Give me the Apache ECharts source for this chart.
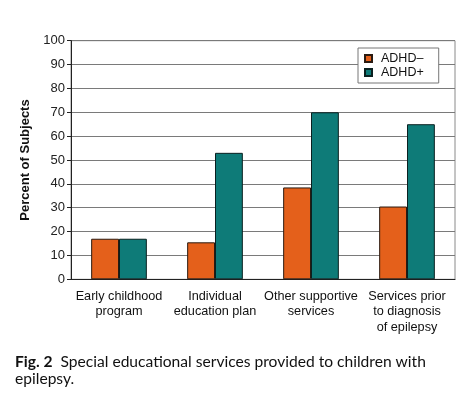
<!DOCTYPE html>
<html>
<head>
<meta charset="utf-8">
<script src="https://cdn.jsdelivr.net/npm/echarts@6/dist/echarts.min.js"></script>
<style>
html,body{margin:0;padding:0;background:#fff;}
#c{width:474px;height:403px;}
</style>
</head>
<body>
<div id="c"></div>
<script>
var categories = ["Early childhood\nprogram", "Individual\neducation plan", "Other supportive\nservices", "Services prior\nto diagnosis\nof epilepsy"];
var adhdNeg = [17, 15.5, 38.5, 30.5];
var adhdPos = [17, 53, 70, 65];
var yTicks = [0, 10, 20, 30, 40, 50, 60, 70, 80, 90, 100];

var chart = echarts.init(document.getElementById('c'), null, {renderer: 'canvas'});
var font = 'Liberation Sans, Arial, sans-serif';
chart.setOption({
  backgroundColor: '#fff',
  animation: false,
  grid: {left: 71, right: 19, top: 40.7, bottom: 123.7, show: true, borderColor: '#8a8a8a', borderWidth: 1},
  legend: {
    left: 358, top: 48, orient: 'vertical',
    backgroundColor: '#fff', borderColor: '#777', borderWidth: 1,
    padding: [4, 15, 4, 6], itemGap: 1,
    itemWidth: 7, itemHeight: 7, icon: 'rect',
    textStyle: {fontFamily: font, fontSize: 12.5, color: '#111', padding: [0, 0, 0, 4]},
    data: ['ADHD\u2013', 'ADHD+']
  },
  xAxis: {
    type: 'category', data: categories,
    axisLine: {lineStyle: {color: '#222', width: 1}},
    axisTick: {length: 4, lineStyle: {color: '#222'}},
    axisLabel: {fontFamily: font, fontSize: 12.7, color: '#111', margin: 9, lineHeight: 15.5, interval: 0}
  },
  yAxis: {
    type: 'value', min: yTicks[0], max: yTicks[yTicks.length - 1], interval: 10,
    name: 'Percent of Subjects', nameLocation: 'middle', nameGap: 35,
    nameTextStyle: {fontFamily: font, fontSize: 13, fontWeight: 'bold', color: '#111'},
    axisLine: {show: true, lineStyle: {color: '#222', width: 1}},
    axisTick: {show: true, length: 4, lineStyle: {color: '#222'}},
    axisLabel: {fontFamily: font, fontSize: 13, color: '#222', margin: 6},
    splitLine: {lineStyle: {color: '#7a7a7a', width: 1}}
  },
  series: [
    {name: 'ADHD\u2013', type: 'bar', data: adhdNeg, barGap: '0%', barCategoryGap: '42%',
     itemStyle: {color: '#E4601B', borderColor: '#2a1a10', borderWidth: 1}},
    {name: 'ADHD+', type: 'bar', data: adhdPos,
     itemStyle: {color: '#0E7B78', borderColor: '#0a2020', borderWidth: 1}}
  ],
  graphic: [{
    type: 'text', left: 15, top: 353,
    style: {
      text: '{b|Fig. 2}  Special educational services provided to children with\nepilepsy.',
      font: '15.6px Lato, sans-serif', fill: '#111', lineHeight: 17,
      rich: {b: {fontFamily: 'Lato, sans-serif', fontWeight: 'bold', fontSize: 15.6, fill: '#111'}}
    }
  }]
});
</script>
</body>
</html>
